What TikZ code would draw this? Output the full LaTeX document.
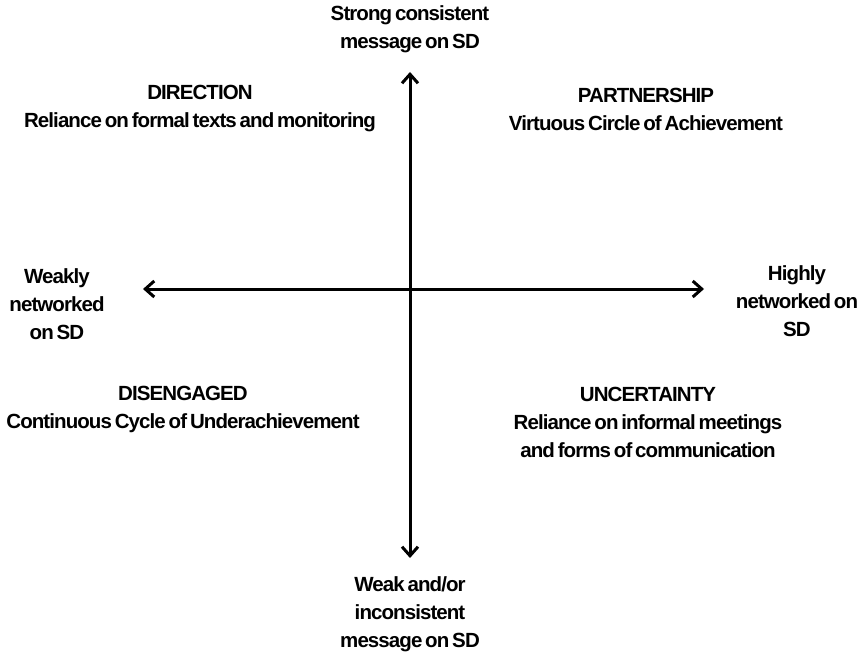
\documentclass[tikz,border=0pt]{standalone}
\usepackage{fontspec}
\setmainfont{Liberation Sans}[LetterSpace=-4.5,WordSpace=0.6]
\usetikzlibrary{arrows.meta}
\begin{document}
\begin{tikzpicture}[x=1pt,y=-1pt,
  lbl/.style={font=\bfseries\fontsize{20.5}{28}\selectfont, align=center, inner sep=0pt},
  axis/.style={line width=3pt, {Straight Barb[length=9pt,width=16pt,line width=3pt]}-{Straight Barb[length=9pt,width=16pt,line width=3pt]}}]
\useasboundingbox (0,0) rectangle (868,661);
\coordinate (top) at (410,72);
\coordinate (bot) at (410,558);
\coordinate (lft) at (143,289);
\coordinate (rgt) at (704,289);
\draw[axis] (bot) -- (top);
\draw[axis] (lft) -- (rgt);
\node[lbl] (strong) at (410,29) {Strong consistent\\message on SD};
\node[lbl] (weak) at (410,614) {Weak and/or\\inconsistent\\message on SD};
\node[lbl] (weakly) at (57,304) {Weakly\\networked\\on SD};
\node[lbl] (highly) at (797,301) {Highly\\networked on\\SD};
\node[lbl] (direction) at (200,109) {DIRECTION\\Reliance on formal texts and monitoring};
\node[lbl] (partner) at (646,109) {PARTNERSHIP\\Virtuous Circle of Achievement};
\node[lbl] (diseng) at (183,409) {DISENGAGED\\Continuous Cycle of Underachievement};
\node[lbl] (uncert) at (648,422) {UNCERTAINTY\\Reliance on informal meetings\\and forms of communication};
\end{tikzpicture}
\end{document}
